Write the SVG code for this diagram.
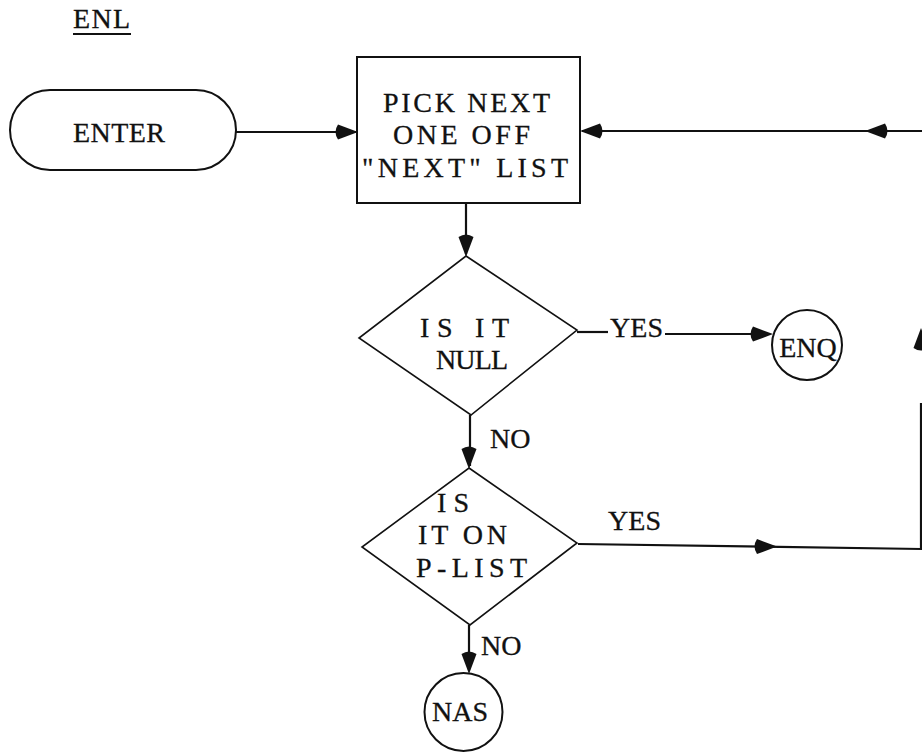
<svg xmlns="http://www.w3.org/2000/svg" xmlns:xlink="http://www.w3.org/1999/xlink" width="922" height="754" viewBox="0 0 922 754">
<style>
text{font-family:"Liberation Serif","Times New Roman",serif;font-size:28px;fill:#111;stroke:#111;stroke-width:0.3}
.shape{fill:#fff;stroke:#111;stroke-width:2}
.dia{fill:#fff;stroke:#111;stroke-width:1.6}
.ln{fill:none;stroke:#111;stroke-width:2.2}
.ah{fill:#111;stroke:none}
</style>
<defs>
<path id="ah" d="M0,0 L-20,-7.5 Q-25,0 -20,7.5 Z"/>
</defs>
<rect width="922" height="754" fill="#fff"/>
<g id="title">
<text x="73" y="28" textLength="57" lengthAdjust="spacing">ENL</text>
<line x1="73" y1="34" x2="131" y2="34" class="ln" stroke-width="2"/>
</g>
<g id="enter">
<rect x="10" y="90" width="226" height="80" rx="40" ry="40" class="shape"/>
<text x="73" y="142" textLength="92" lengthAdjust="spacing">ENTER</text>
</g>
<g id="pick">
<rect x="357" y="57" width="223" height="146" class="shape"/>
<text x="383" y="112" textLength="167" lengthAdjust="spacing">PICK NEXT</text>
<text x="393" y="144" textLength="137" lengthAdjust="spacing">ONE OFF</text>
<text x="362" y="177" textLength="206" lengthAdjust="spacing">"NEXT" LIST</text>
</g>
<g id="isnull">
<polygon points="466,256 577,330 471,415 359,338" class="dia"/>
<text x="420" y="337" textLength="89" lengthAdjust="spacing">IS IT</text>
<text x="436" y="369" textLength="72" lengthAdjust="spacing">NULL</text>
</g>
<g id="enq">
<circle cx="807" cy="345" r="35" class="shape"/>
<text x="808" y="357" text-anchor="middle">ENQ</text>
</g>
<g id="onplist">
<polygon points="469,468 577,543 470,625 362,547" class="dia"/>
<text x="437" y="512" textLength="32" lengthAdjust="spacing">IS</text>
<text x="418" y="544" textLength="89" lengthAdjust="spacing">IT ON</text>
<text x="416" y="577" textLength="111" lengthAdjust="spacing">P-LIST</text>
</g>
<g id="nas">
<circle cx="463.5" cy="712" r="39" class="shape"/>
<text x="460" y="721" text-anchor="middle">NAS</text>
</g>
<g id="connectors">
<line x1="236" y1="132" x2="356" y2="132" class="ln"/>
<use xlink:href="#ah" href="#ah" class="ah" transform="translate(358,132)"/>
<line x1="922" y1="131" x2="582" y2="131" class="ln"/>
<use xlink:href="#ah" href="#ah" class="ah" transform="translate(865,131) rotate(180)"/>
<use xlink:href="#ah" href="#ah" class="ah" transform="translate(580,131) rotate(180)"/>
<line x1="466" y1="203" x2="466" y2="254" class="ln"/>
<use xlink:href="#ah" href="#ah" class="ah" transform="translate(466,257) rotate(90)"/>
<line x1="577" y1="332" x2="608" y2="332" class="ln" stroke-width="1.6"/>
<text x="610" y="337" textLength="53" lengthAdjust="spacing">YES</text>
<line x1="665" y1="334" x2="770" y2="334" class="ln"/>
<use xlink:href="#ah" href="#ah" class="ah" transform="translate(773,334)"/>
<line x1="470" y1="415" x2="470" y2="466" class="ln"/>
<use xlink:href="#ah" href="#ah" class="ah" transform="translate(469,469) rotate(90)"/>
<text x="490" y="448">NO</text>
<polyline points="578,544 921,549 921,403" class="ln"/>
<use xlink:href="#ah" href="#ah" class="ah" transform="translate(777,546.5)"/>
<use xlink:href="#ah" href="#ah" class="ah" transform="translate(921,328) rotate(-90)"/>
<text x="608" y="530" textLength="53" lengthAdjust="spacing">YES</text>
<line x1="469" y1="625" x2="469" y2="670" class="ln"/>
<use xlink:href="#ah" href="#ah" class="ah" transform="translate(469,674) rotate(90)"/>
<text x="481" y="655">NO</text>
</g>
</svg>
